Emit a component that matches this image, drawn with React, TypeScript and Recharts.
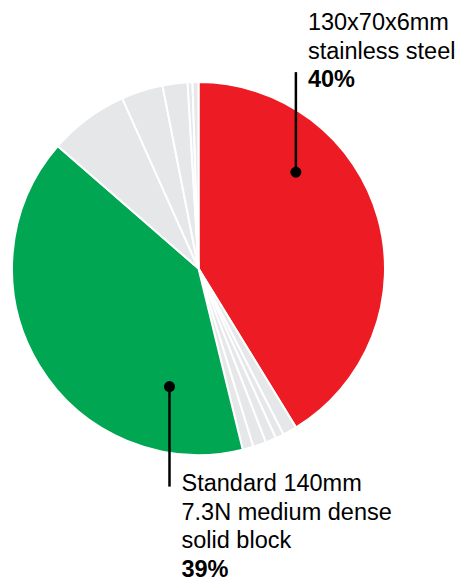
import { PieChart, Pie, Cell } from 'recharts';

// slices run clockwise from 12 o'clock
const SLICE_NAMES = [
  '130x70x6mm stainless steel',
  'Other A', 'Other B', 'Other C', 'Other D', 'Other E',
  'Standard 140mm 7.3N medium dense solid block',
  'Other F', 'Other G', 'Other H', 'Other I', 'Other J',
];
const SLICE_VALUES = [40, 1.2, 0.7, 0.9, 1.1, 0.9, 39, 6.7, 3.5, 2.1, 0.4, 0.5];

const RED = '#ed1c24';
const GREEN = '#00a651';
const GREY = '#e6e7e8';

// callout text per highlighted slice
const RED_LINES = ['130x70x6mm', 'stainless steel'];
const GREEN_LINES = ['Standard 140mm', '7.3N medium dense', 'solid block'];

const FONT = '"Liberation Sans", Arial, sans-serif';
const FONT_SIZE = 23.5;
const LINE_H = 28.5;

interface Callout {
  lines: string[];
  angle: number; // recharts degrees, where the dot sits
  radius: number;
  direction: 'up' | 'down';
}

const CALLOUTS: Record<number, Callout> = {
  0: { lines: RED_LINES, angle: 44.7, radius: 137, direction: 'up' },
  6: { lines: GREEN_LINES, angle: -103.8, radius: 121.6, direction: 'down' },
};

const data = SLICE_NAMES.map((name, i) => ({
  name,
  value: SLICE_VALUES[i],
  color: i === 0 ? RED : i === 6 ? GREEN : GREY,
}));

const RADIAN = Math.PI / 180;

function renderCallout(props: any) {
  const { cx, cy, index, value } = props;
  const c = CALLOUTS[index];
  if (!c) return null;
  const x = cx + c.radius * Math.cos(-c.angle * RADIAN);
  const y = cy + c.radius * Math.sin(-c.angle * RADIAN);
  const lead = 100;
  const tx = x + 12;
  const all = [...c.lines, `${Math.round(value)}%`];
  let baselines: number[];
  let lineEnd: number;
  if (c.direction === 'up') {
    lineEnd = y - lead;
    const last = lineEnd + 15;
    baselines = all.map((_, i) => last - (all.length - 1 - i) * LINE_H);
  } else {
    lineEnd = y + lead;
    baselines = all.map((_, i) => lineEnd + 4.7 + i * LINE_H);
  }
  return (
    <g key={`callout-${index}`}>
      <line x1={x} y1={y} x2={x} y2={lineEnd} stroke="#000" strokeWidth={2.5} />
      <circle cx={x} cy={y} r={5.5} fill="#000" />
      {all.map((t, i) => (
        <text
          key={i}
          x={tx}
          y={baselines[i]}
          fill="#000"
          fontFamily={FONT}
          fontSize={FONT_SIZE}
          fontWeight={i === all.length - 1 ? 700 : 400}
        >
          {t}
        </text>
      ))}
    </g>
  );
}

export default function App() {
  return (
    <div style={{ width: 460, height: 583, background: '#fff' }}>
      <style>{'body { margin: 0; }'}</style>
      <PieChart width={460} height={583} margin={{ top: 0, right: 0, bottom: 0, left: 0 }}>
        <Pie
          data={data}
          dataKey="value"
          nameKey="name"
          cx={198.5}
          cy={268.5}
          outerRadius={186.5}
          startAngle={90}
          endAngle={-270}
          stroke="#fff"
          strokeWidth={2}
          label={renderCallout}
          labelLine={false}
          isAnimationActive={false}
        >
          {data.map((entry) => (
            <Cell key={entry.name} fill={entry.color} />
          ))}
        </Pie>
      </PieChart>
    </div>
  );
}
